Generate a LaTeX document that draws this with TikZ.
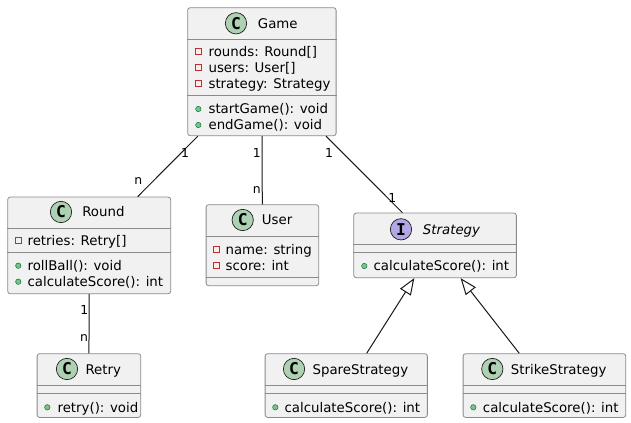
\documentclass[tikz,border=0pt]{standalone}
\usepackage{fontspec}
\setmainfont{DejaVu Sans}
\setmonofont{DejaVu Sans Mono}
\usetikzlibrary{arrows.meta}

\definecolor{boxfill}{HTML}{F1F1F1}
\definecolor{boxline}{HTML}{181818}
\definecolor{boxedge}{HTML}{8A8A8A}
\definecolor{classicon}{HTML}{ADD1B2}
\definecolor{ifaceicon}{HTML}{B4A7E5}
\definecolor{privred}{HTML}{C82930}
\definecolor{pubfill}{HTML}{84BE84}
\definecolor{publine}{HTML}{038048}

\begin{document}
\begin{tikzpicture}[x=0.75pt,y=0.75pt,yscale=-1,xscale=1,
  classbox/.style={rectangle, draw=boxedge, line width=0.6pt, fill=boxfill, rounded corners=1.9pt, anchor=north west, inner sep=0pt},
  sep/.style={draw=boxedge, line width=0.6pt},
  member/.style={anchor=base west, inner sep=0pt, font=\fontsize{10}{12}\selectfont},
  cicon/.style={circle, draw=boxline, line width=0.5pt, fill=classicon, minimum size=16pt, inner sep=0pt, font=\ttfamily\bfseries\fontsize{12.2}{13}\selectfont},
  iicon/.style={cicon, fill=ifaceicon},
  vpriv/.style={draw=privred, line width=0.6pt},
  vpub/.style={fill=pubfill, draw=publine, line width=0.4pt},
  mult/.style={inner sep=0pt, font=\fontsize{9.3}{11}\selectfont},
  assoc/.style={draw=boxline, line width=0.75pt},
  inherit/.style={assoc, -{Triangle[open, length=12.5pt, width=9.5pt]}}
]
%set diagram size
\path[use as bounding box] (0,0) rectangle (631,423);

%Class: Game
\node [classbox, minimum width=111.3pt, minimum height=96pt] (game) at (187.3,7.3) {};
\draw [sep] (game.west |- 0,39.3) -- (game.east |- 0,39.3) ;
\draw [sep] (game.west |- 0,95.7) -- (game.east |- 0,95.7) ;
\node [cicon] (gameicon) at (236,23.3) {C};
\node [member] (gamename) at (257.7,28.3) {Game};
\draw [vpriv] (195,48.7) rectangle (201,54.7) ;
\draw [vpriv] (195,64.7) rectangle (201,70.7) ;
\draw [vpriv] (195,80.7) rectangle (201,86.7) ;
\node [member] (gamea1) at (208.3,56.7) {rounds: Round[]};
\node [member] (gamea2) at (208.3,72.7) {users: User[]};
\node [member] (gamea3) at (208.3,88.7) {strategy: Strategy};
\draw [vpub] (198.3,109) circle (2.7) ;
\draw [vpub] (198.3,125) circle (2.7) ;
\node [member] (gamem1) at (208.3,114) {startGame(): void};
\node [member] (gamem2) at (208.3,130) {endGame(): void};

%Class: Round
\node [classbox, minimum width=122.25pt, minimum height=72.45pt] (round) at (7.3,196.7) {};
\draw [sep] (round.west |- 0,228.3) -- (round.east |- 0,228.3) ;
\draw [sep] (round.west |- 0,252.3) -- (round.east |- 0,252.3) ;
\node [cicon] (roundicon) at (61,212) {C};
\node [member] (roundname) at (82,217) {Round};
\draw [vpriv] (15.3,237.7) rectangle (21.3,243.7) ;
\node [member] (rounda1) at (27.3,245.7) {retries: Retry[]};
\draw [vpub] (18.3,265.7) circle (2.7) ;
\draw [vpub] (18.3,281.7) circle (2.7) ;
\node [member] (roundm1) at (27.3,270.7) {rollBall(): void};
\node [member] (roundm2) at (27.3,286.7) {calculateScore(): int};

%Class: User
\node [classbox, minimum width=84.45pt, minimum height=60.75pt] (user) at (205.7,204.3) {};
\draw [sep] (user.west |- 0,236.7) -- (user.east |- 0,236.7) ;
\draw [sep] (user.west |- 0,277.3) -- (user.east |- 0,277.3) ;
\node [cicon] (usericon) at (242.7,220) {C};
\node [member] (username) at (261.7,225) {User};
\draw [vpriv] (213,246.3) rectangle (219,252.3) ;
\draw [vpriv] (213,262.3) rectangle (219,268.3) ;
\node [member] (usera1) at (225.3,254.3) {name: string};
\node [member] (usera2) at (225.3,270.3) {score: int};

%Interface: Strategy
\node [classbox, minimum width=122pt, minimum height=48.45pt] (strategy) at (353.3,212.7) {};
\draw [sep] (strategy.west |- 0,244.3) -- (strategy.east |- 0,244.3) ;
\draw [sep] (strategy.west |- 0,252.3) -- (strategy.east |- 0,252.3) ;
\node [iicon] (strategyicon) at (401,229.3) {I};
\node [member] (strategyname) at (422.7,234.3) {\itshape Strategy};
\draw [vpub] (364.3,266) circle (2.7) ;
\node [member] (strategym1) at (373.3,271) {calculateScore(): int};

%Class: Retry
\node [classbox, minimum width=77.7pt, minimum height=47.8pt] (retry) at (36.7,353.3) {};
\draw [sep] (retry.west |- 0,385.7) -- (retry.east |- 0,385.7) ;
\draw [sep] (retry.west |- 0,393.7) -- (retry.east |- 0,393.7) ;
\node [cicon] (retryicon) at (67,369) {C};
\node [member] (retryname) at (85.3,374) {Retry};
\draw [vpub] (47.3,407.3) circle (2.7) ;
\node [member] (retrym1) at (57.3,412.3) {retry(): void};

%Class: SpareStrategy
\node [classbox, minimum width=121.7pt, minimum height=47.8pt] (spare) at (264.7,353.3) {};
\draw [sep] (spare.west |- 0,385.7) -- (spare.east |- 0,385.7) ;
\draw [sep] (spare.west |- 0,393.7) -- (spare.east |- 0,393.7) ;
\node [cicon] (spareicon) at (294,369) {C};
\node [member] (sparename) at (312.3,374) {SpareStrategy};
\draw [vpub] (275.3,407.3) circle (2.7) ;
\node [member] (sparem1) at (284.3,412.3) {calculateScore(): int};

%Class: StrikeStrategy
\node [classbox, minimum width=122pt, minimum height=47.8pt] (strike) at (462.7,353.3) {};
\draw [sep] (strike.west |- 0,385.7) -- (strike.east |- 0,385.7) ;
\draw [sep] (strike.west |- 0,393.7) -- (strike.east |- 0,393.7) ;
\node [cicon] (strikeicon) at (492.3,369) {C};
\node [member] (strikename) at (510.7,374) {StrikeStrategy};
\draw [vpub] (473.3,407.3) circle (2.7) ;
\node [member] (strikem1) at (482.7,412.3) {calculateScore(): int};

%Associations
\draw [assoc] (game) -- (round) ;
\draw [assoc] (game) -- (user) ;
\draw [assoc] (game) -- (strategy) ;
\draw [assoc] (round) -- (retry) ;
%Realizations
\draw [inherit] (spare) -- (strategy) ;
\draw [inherit] (strike) -- (strategy) ;

% Multiplicities
\node [mult] (m1) at (185,152.7) {1};
\node [mult] (m2) at (138.3,181) {n};
\node [mult] (m3) at (256.7,152.7) {1};
\node [mult] (m4) at (256.7,190) {n};
\node [mult] (m5) at (329,152.7) {1};
\node [mult] (m6) at (392.3,198) {1};
\node [mult] (m7) at (84.3,310) {1};
\node [mult] (m8) at (84,338) {n};
\end{tikzpicture}
\end{document}
